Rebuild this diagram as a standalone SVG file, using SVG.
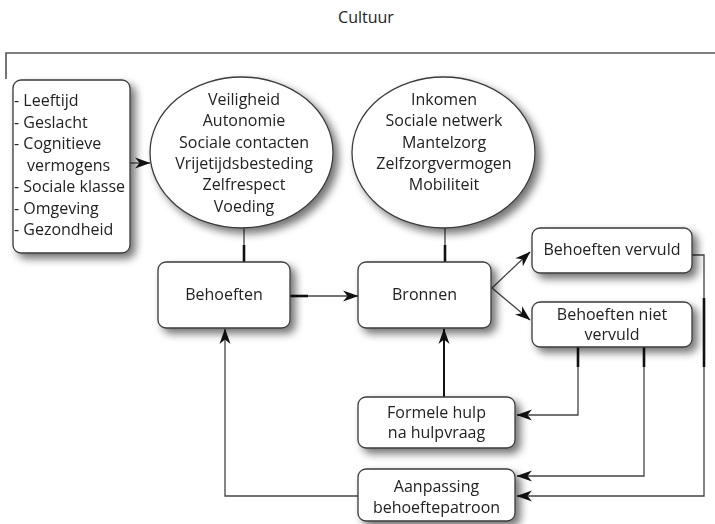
<svg xmlns="http://www.w3.org/2000/svg" width="715" height="524" viewBox="0 0 715 524">
<defs>
<style>
text{font-family:"Open Sans","Noto Sans","Liberation Sans",sans-serif;font-size:16px;fill:#222}
.c{text-anchor:middle}
.box{fill:#fff;stroke:#3a3a3a;stroke-width:1.3}
.ln{fill:none;stroke:#444;stroke-width:1.3}
.th{fill:none;stroke:#111;stroke-width:2.6}
.arr{marker-end:url(#ah)}
</style>
<filter id="sh" x="-20%" y="-20%" width="150%" height="160%">
<feGaussianBlur in="SourceAlpha" stdDeviation="4"/>
<feOffset dx="5" dy="5" result="b"/>
<feComponentTransfer><feFuncA type="linear" slope="0.55"/></feComponentTransfer>
<feMerge><feMergeNode/><feMergeNode in="SourceGraphic"/></feMerge>
</filter>
<marker id="ah" markerUnits="userSpaceOnUse" markerWidth="16" markerHeight="12" refX="15" refY="6" orient="auto">
<path d="M0,0.5 L15.5,6 L0,11.5 L4.5,6 Z" fill="#111"/>
</marker>
</defs>
<rect width="715" height="524" fill="#fff"/>
<text class="c" x="366" y="23">Cultuur</text>
<path d="M6,79 V53 H715" fill="none" stroke="#555" stroke-width="1.6"/>

<g id="connectors">
<path class="ln arr" d="M130,163 H150"/>
<path class="ln" d="M244,228 V262"/>
<path class="th" d="M244,245 V262"/>
<path class="ln" d="M445,228 V262"/>
<path class="th" d="M445,245 V262"/>
<path class="ln arr" d="M290,296 H358"/>
<path class="th" d="M290,296 H308"/>
<path class="ln arr" d="M492,288 L530,252"/>
<path class="ln arr" d="M492,288 L530,320"/>
<path class="ln arr" d="M692,255 H704 V496 H517"/>
<path class="th" d="M704,298 V367"/>
<path class="ln arr" d="M578,347 V415 H517"/>
<path class="th" d="M578,347 V367"/>
<path class="ln arr" d="M644,347 V476 H517"/>
<path class="th" d="M644,347 V367"/>
<path class="ln arr" d="M444,397 V329" style="stroke:#111;stroke-width:2"/>
<path class="ln arr" d="M358,496 H225 V329"/>
</g>

<g id="factoren" filter="url(#sh)">
<rect class="box" x="13" y="80" width="117" height="173" rx="8"/>
<text x="14" y="106">- Leeftijd</text>
<text x="14" y="127.5">- Geslacht</text>
<text x="14" y="149">- Cognitieve</text>
<text x="27" y="170.5">vermogens</text>
<text x="14" y="192">- Sociale klasse</text>
<text x="14" y="213.5">- Omgeving</text>
<text x="14" y="235">- Gezondheid</text>
</g>

<g id="behoeften-ellips" filter="url(#sh)">
<ellipse class="box" cx="241.5" cy="152.5" rx="91.5" ry="75.5"/>
<text class="c" x="244" y="105">Veiligheid</text>
<text class="c" x="244" y="126.3">Autonomie</text>
<text class="c" x="244" y="147.6">Sociale contacten</text>
<text class="c" x="244" y="169">Vrijetijdsbesteding</text>
<text class="c" x="244" y="190.3">Zelfrespect</text>
<text class="c" x="244" y="211.7">Voeding</text>
</g>

<g id="bronnen-ellips" filter="url(#sh)">
<ellipse class="box" cx="443.5" cy="152.5" rx="91.5" ry="75.5"/>
<text class="c" x="444" y="105">Inkomen</text>
<text class="c" x="444" y="126.3">Sociale netwerk</text>
<text class="c" x="444" y="147.6">Mantelzorg</text>
<text class="c" x="444" y="169">Zelfzorgvermogen</text>
<text class="c" x="444" y="190.3">Mobiliteit</text>
</g>

<g id="behoeften" filter="url(#sh)">
<rect class="box" x="158" y="262" width="132" height="66" rx="8"/>
<text class="c" x="224" y="300">Behoeften</text>
</g>

<g id="bronnen" filter="url(#sh)">
<rect class="box" x="358" y="262" width="133" height="66" rx="8"/>
<text class="c" x="424.5" y="300">Bronnen</text>
</g>

<g id="vervuld" filter="url(#sh)">
<rect class="box" x="532" y="228" width="160" height="45" rx="8"/>
<text class="c" x="612" y="255">Behoeften vervuld</text>
</g>

<g id="niet-vervuld" filter="url(#sh)">
<rect class="box" x="532" y="302" width="160" height="45" rx="8"/>
<text class="c" x="612" y="320">Behoeften niet</text>
<text class="c" x="612" y="340">vervuld</text>
</g>

<g id="formele-hulp" filter="url(#sh)">
<rect class="box" x="358" y="397" width="157" height="51" rx="8"/>
<text class="c" x="436.5" y="417.5">Formele hulp</text>
<text class="c" x="436.5" y="438">na hulpvraag</text>
</g>

<g id="aanpassing" filter="url(#sh)">
<rect class="box" x="358" y="469" width="157" height="52" rx="8"/>
<text class="c" x="436.5" y="492">Aanpassing</text>
<text class="c" x="436.5" y="513">behoeftepatroon</text>
</g>
</svg>
